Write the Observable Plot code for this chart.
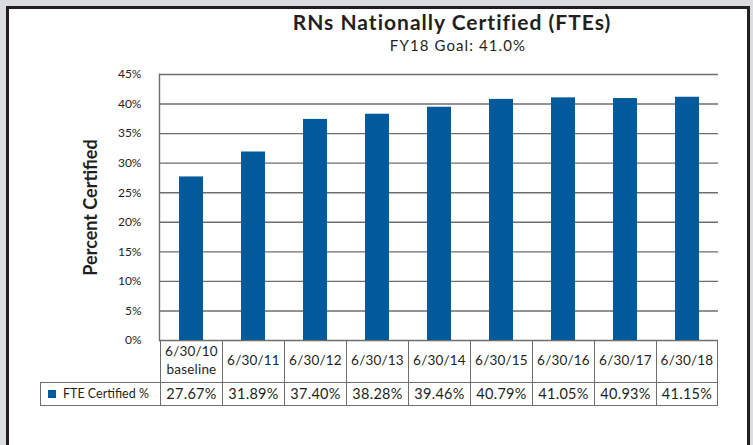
<!DOCTYPE html>
<html><head><meta charset="utf-8">
<script src="https://cdn.jsdelivr.net/npm/d3@7"></script>
<script src="https://cdn.jsdelivr.net/npm/@observablehq/plot@0.6"></script>
<style>
html,body{margin:0;padding:0;background:#dcdde1;width:753px;height:445px;overflow:hidden;font-family:Lato,"Open Sans",sans-serif;}
#panel{position:absolute;left:6px;top:6px;width:744px;height:460px;box-sizing:border-box;border:3px solid #231f20;background:#fff;}
#title{position:absolute;left:152px;width:600px;top:10px;text-align:center;font-size:21px;letter-spacing:1px;font-weight:700;color:#231f20;line-height:24px;}
#subtitle{position:absolute;left:158px;width:600px;top:36px;text-align:center;font-size:15px;letter-spacing:1.1px;color:#231f20;line-height:18px;}
#chart{position:absolute;left:0;top:60px;}
.cell{position:absolute;box-sizing:border-box;display:flex;align-items:center;justify-content:center;text-align:center;color:#231f20;white-space:pre;line-height:1.3;font-size:13.5px;letter-spacing:0.2px;}
</style></head><body>
<div id="panel"></div>
<div id="title"></div><div id="subtitle"></div>
<div id="chart"></div><div id="table"></div>
<script>
const titleText = "RNs Nationally Certified (FTEs)";
const subtitleText = "FY18 Goal: 41.0%";
const yLabel = "Percent Certified";
const seriesName = "FTE Certified %";
const categories = ["6/30/10\nbaseline","6/30/11","6/30/12","6/30/13","6/30/14","6/30/15","6/30/16","6/30/17","6/30/18"];
const values = [27.67, 31.89, 37.40, 38.28, 39.46, 40.79, 41.05, 40.93, 41.15];
const yTicks = [0, 5, 10, 15, 20, 25, 30, 35, 40, 45];
const barColor = "#005a9c";
const lineColor = "#6e6e6e";

document.getElementById("title").textContent = titleText;
document.getElementById("subtitle").textContent = subtitleText;

const data = categories.map((c, i) => ({cat: c, v: values[i]}));

const chart = Plot.plot({
  width: 753,
  height: 282,
  marginTop: 14,
  marginBottom: 2,
  marginLeft: 159,
  marginRight: 35,
  style: {fontFamily: "Lato, 'Open Sans', sans-serif", fontSize: "12px", color: "#231f20", background: "transparent", overflow: "visible"},
  x: {domain: categories, padding: 0, axis: null},
  y: {domain: [0, 45], axis: null},
  marks: [
    Plot.ruleY(yTicks, {stroke: lineColor, strokeWidth: 1.4}),
    Plot.frame({anchor: "left", stroke: lineColor, strokeWidth: 1.4}),
    Plot.axisY({ticks: yTicks, tickFormat: d => d + "%", tickSize: 0, tickPadding: 18, label: null, fontSize: 12}),
    Plot.text([yLabel], {text: d => d, frameAnchor: "left", textAnchor: "middle", dx: -68, rotate: -90, fontSize: 18, fontWeight: "bold", fill: "#231f20", letterSpacing: "0.6px"}),
    Plot.barY(data, {x: "cat", y: "v", fill: barColor, insetLeft: 19, insetRight: 19})
  ]
});
document.getElementById("chart").appendChild(chart);

const xs = chart.scale("x");
const bw = xs.bandwidth;
const table = document.getElementById("table");
const top0 = 340, h1 = 42, h2 = 24;
function cell(left, top, w, h, html, borders) {
  const d = document.createElement("div");
  d.className = "cell";
  Object.assign(d.style, {left: left + "px", top: top + "px", width: w + "px", height: h + "px"});
  for (const b of borders) d.style["border" + b] = "1px solid " + lineColor;
  if (typeof html === "string") d.textContent = html; else d.appendChild(html);
  table.appendChild(d);
  return d;
}
categories.forEach((c, i) => {
  const left = xs.apply(c);
  const last = i === categories.length - 1;
  cell(left, top0, bw, h1, c, last ? ["Left", "Right"] : ["Left"]);
  const vc = cell(left, top0 + h1, bw, h2, values[i].toFixed(2) + "%", last ? ["Left", "Right", "Top", "Bottom"] : ["Left", "Top", "Bottom"]);
  vc.style.fontSize = "14.5px";
  vc.style.letterSpacing = "0.3px";
});
// legend cell
const leg = document.createElement("span");
leg.style.display = "flex"; leg.style.alignItems = "center";
const sw = document.createElement("span");
Object.assign(sw.style, {display: "inline-block", width: "8px", height: "8px", background: barColor, marginRight: "7px"});
const lt = document.createElement("span");
lt.textContent = seriesName; lt.style.fontSize = "12.5px"; lt.style.letterSpacing = "0px";
leg.appendChild(sw); leg.appendChild(lt);
const lc = cell(40, top0 + h1, xs.apply(categories[0]) - 40, h2, leg, ["Left", "Top", "Bottom"]);
lc.style.justifyContent = "flex-start";
lc.style.paddingLeft = "7px";
</script></body></html>
